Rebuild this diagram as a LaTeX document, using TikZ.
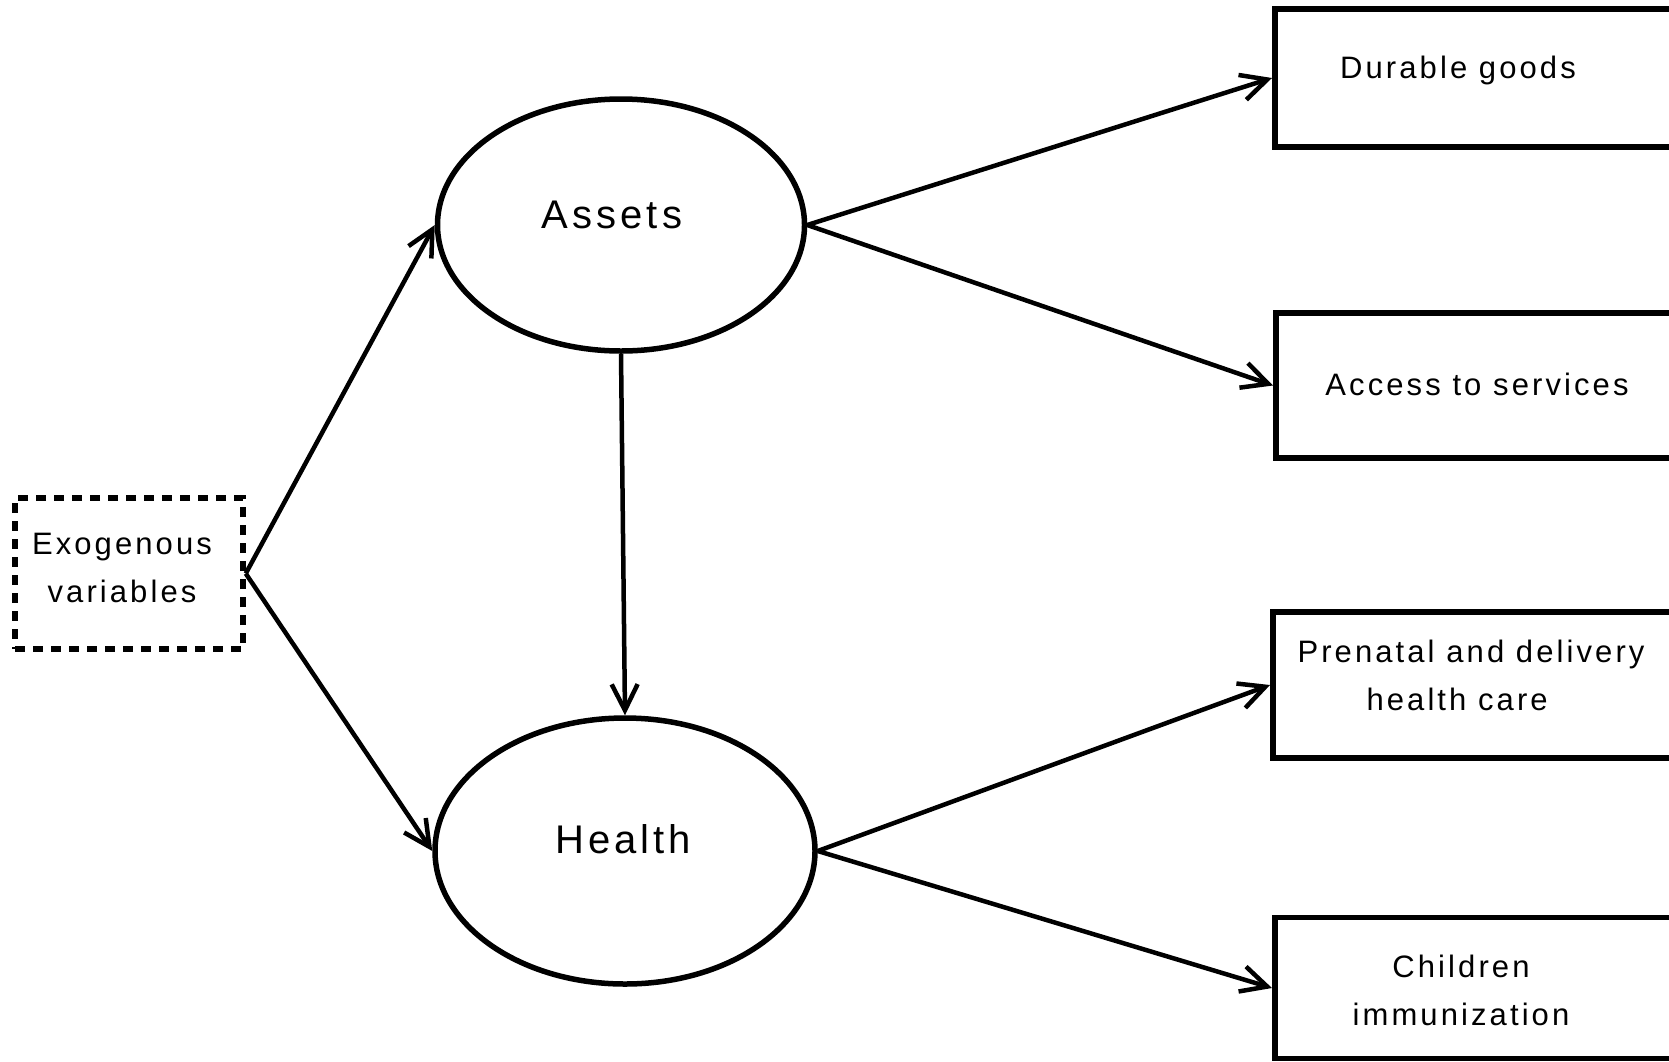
\documentclass[tikz,border=0pt]{standalone}
\usepackage{fontspec}
\setmainfont{Liberation Sans}[LetterSpace=10]
\usetikzlibrary{arrows.meta}
\usetikzlibrary{shapes.geometric}

\tikzset{
  latent/.style={draw, ellipse, line width=5.5pt, inner sep=0pt},
  latenttext/.style={inner sep=0pt, font=\fontsize{40}{48}\selectfont},
  indicator/.style={draw, rectangle, line width=5.5pt, minimum width=460pt, anchor=west},
  exobox/.style={draw, rectangle, line width=5.5pt, dash pattern=on 10pt off 8pt},
  boxtext/.style={inner sep=0pt, align=center, font=\fontsize{31}{48}\selectfont},
  path/.style={line width=4.5pt, -{Straight Barb[length=26pt, width=26pt, line width=4.5pt]}}
}

\begin{document}
\begin{tikzpicture}[x=1pt, y=-1pt]
        \clip (0,0) rectangle (1669,1061);
        \fill[white] (0,0) rectangle (1669,1061);
        % exogenous variables
        \node[exobox, minimum width=228pt, minimum height=151pt] (exo) at (129,573.5) {};
        \node[boxtext] (exotext) at (122,568) {Exogenous\\variables};
        % latent constructs
        \node[latent, minimum width=367pt, minimum height=252pt] (assets) at (621,225) {};
        \node[latent, minimum width=380pt, minimum height=266pt] (health) at (625,851) {};
        \node[latenttext] (assetstext) at (612,215) {Assets};
        \node[latenttext] (healthtext) at (623,839) {Health};
        % indicators
        \node[indicator, minimum height=138pt] (durbox) at (1272,78) {};
        \node[indicator, minimum height=145pt] (accbox) at (1273,385.5) {};
        \node[indicator, minimum height=146pt] (prebox) at (1270,685) {};
        \node[indicator, minimum height=141pt] (chibox) at (1272,988) {};
        \node[boxtext] (durtext) at (1458,70) {Durable goods};
        \node[boxtext] (acctext) at (1477,384) {Access to services};
        \node[boxtext, align=left] (pretext) at (1471,675) {Prenatal and delivery\\\hspace*{69pt}health care};
        \node[boxtext] (chitext) at (1461,990) {Children\\immunization};
        % paths
        \draw[path] (exo.east) -- (assets.west);
        \draw[path] (exo.east) -- (health.west);
        \draw[path] (assets.south) -- (health.north);
        \draw[path] (assets.east) -- (durbox.west);
        \draw[path] (assets.east) -- (accbox.west);
        \draw[path] (health.east) -- (prebox.west);
        \draw[path] (health.east) -- (chibox.west);
    \end{tikzpicture}
\end{document}
